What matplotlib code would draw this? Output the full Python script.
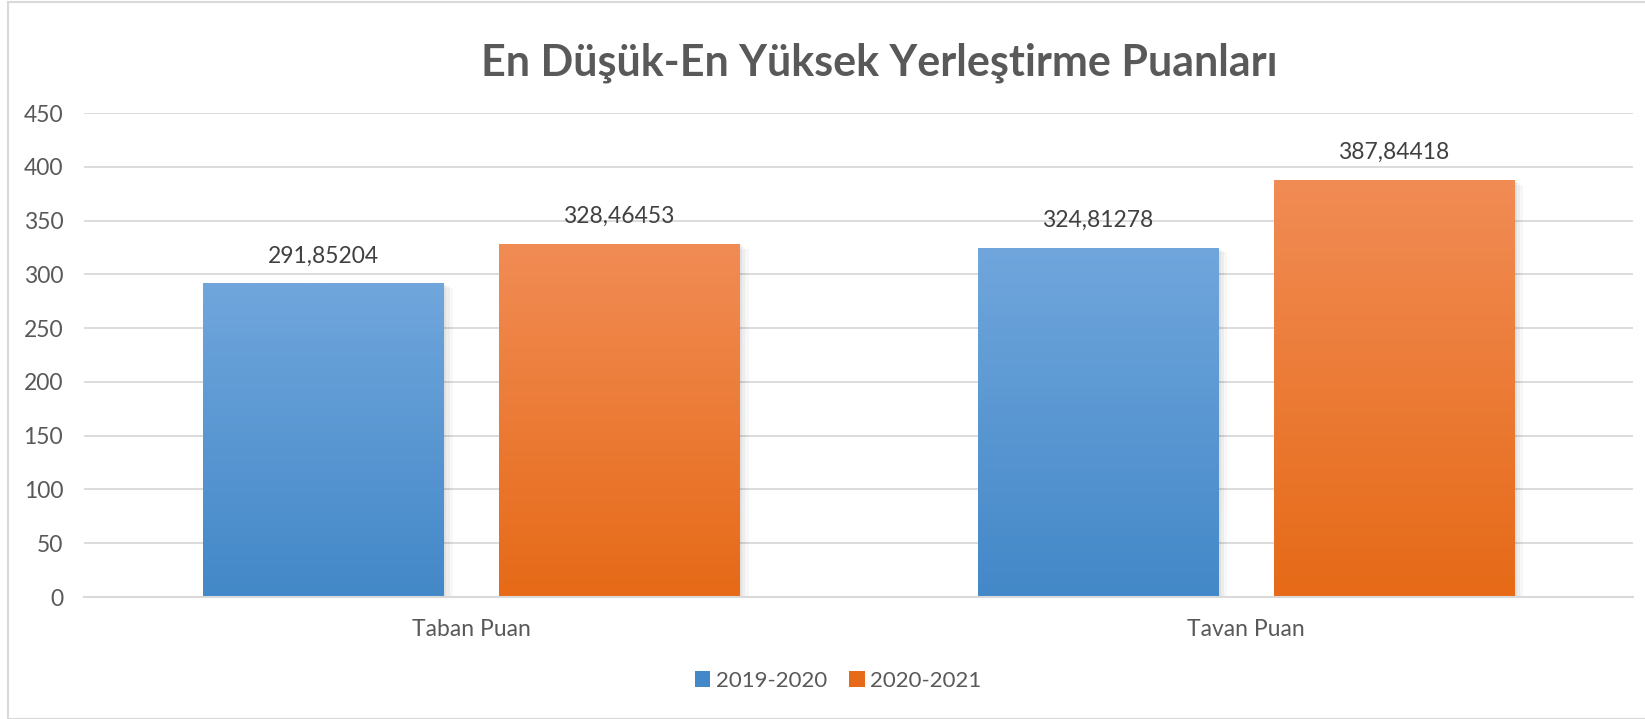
import numpy as np
import matplotlib.pyplot as plt
from matplotlib.colors import LinearSegmentedColormap
from matplotlib.patches import Rectangle, Patch

# ===== Данные =====
categories = ['Taban Puan', 'Tavan Puan']
series_names = ['2019-2020', '2020-2021']
values_2019 = [291.85204, 324.81278]
values_2020 = [328.46453, 387.84418]
value_labels_2019 = ['291,85204', '324,81278']
value_labels_2020 = ['328,46453', '387,84418']
title = 'En Düşük-En Yüksek Yerleştirme Puanları'

# Цвета градиента (верх, низ)
blue = ('#70A6DC', '#4388C8')
orange = ('#F18C55', '#E66A17')
text_color = '#595959'
grid_color = '#D9D9D9'

plt.rcParams['font.family'] = ['Lato', 'DejaVu Sans']
FS = 16.5

W, H = 1645, 719
fig = plt.figure(figsize=(W / 100, H / 100), dpi=100)
ax = fig.add_axes([84 / W, (H - 597) / H, (1633 - 84) / W, (597 - 113) / H])

# рамка вокруг всей диаграммы
fig.patches.append(Rectangle((8 / W, 0.5 / H), 1.0, (717 - 0.5) / H,
                             transform=fig.transFigure, fill=False,
                             edgecolor='#D9D9D9', linewidth=1.5))


def gradient_bar(ax, x, width, height, colors):
    """Столбец с вертикальным градиентом и лёгкой тенью."""
    x0 = x - width / 2
    # тень
    for k, a in enumerate([0.05, 0.04, 0.03]):
        dx = 0.004 * (k + 1)
        ax.add_patch(Rectangle((x0 + dx, -1.5 * (k + 1)), width, height,
                               facecolor='black', alpha=a, edgecolor='none', zorder=2))
    cmap = LinearSegmentedColormap.from_list('g', [colors[1], colors[0]])
    grad = np.linspace(0, 1, 256).reshape(-1, 1)
    im = ax.imshow(grad, cmap=cmap, origin='lower', aspect='auto',
                   extent=(x0, x0 + width, 0, height), zorder=3)
    rect = Rectangle((x0, 0), width, height, facecolor='none', edgecolor='none', zorder=3)
    ax.add_patch(rect)
    im.set_clip_path(rect)


x = np.arange(len(categories))
bw = 0.31
off = 0.191

for i in range(len(categories)):
    gradient_bar(ax, x[i] - off, bw, values_2019[i], blue)
    gradient_bar(ax, x[i] + off, bw, values_2020[i], orange)
    ax.annotate(value_labels_2019[i], (x[i] - off, values_2019[i]), xytext=(0, 12),
                textcoords='offset points', ha='center', va='bottom',
                fontsize=FS, color='#404040')
    ax.annotate(value_labels_2020[i], (x[i] + off, values_2020[i]), xytext=(0, 12),
                textcoords='offset points', ha='center', va='bottom',
                fontsize=FS, color='#404040')

ax.set_xlim(-0.5, 1.5)
ax.set_ylim(0, 450)
ax.set_yticks(np.arange(0, 451, 50))
ax.set_xticks(x)
ax.set_xticklabels(categories)
ax.grid(axis='y', color=grid_color, linewidth=1.3, zorder=0)
ax.set_axisbelow(True)
for s in ['top', 'right', 'left']:
    ax.spines[s].set_visible(False)
ax.spines['bottom'].set_color(grid_color)
ax.spines['bottom'].set_linewidth(1.5)
ax.spines['bottom'].set_zorder(4)
ax.tick_params(axis='both', length=0, labelsize=FS, labelcolor=text_color)
ax.tick_params(axis='y', pad=15)
ax.tick_params(axis='x', pad=16)

fig.text(879 / W, 1 - 63 / H, title, ha='center', va='center',
         fontsize=31, fontweight='bold', color=text_color)

handles = [Patch(facecolor=blue[1], edgecolor='none'),
           Patch(facecolor=orange[1], edgecolor='none')]
fig.legend(handles, series_names, loc='center', bbox_to_anchor=(838 / W, 1 - 681 / H),
           ncol=2, frameon=False, fontsize=16, labelcolor=text_color,
           handlelength=0.7, handleheight=0.7, handletextpad=0.25, columnspacing=1.0)

fig.savefig('out.png', dpi=100)
